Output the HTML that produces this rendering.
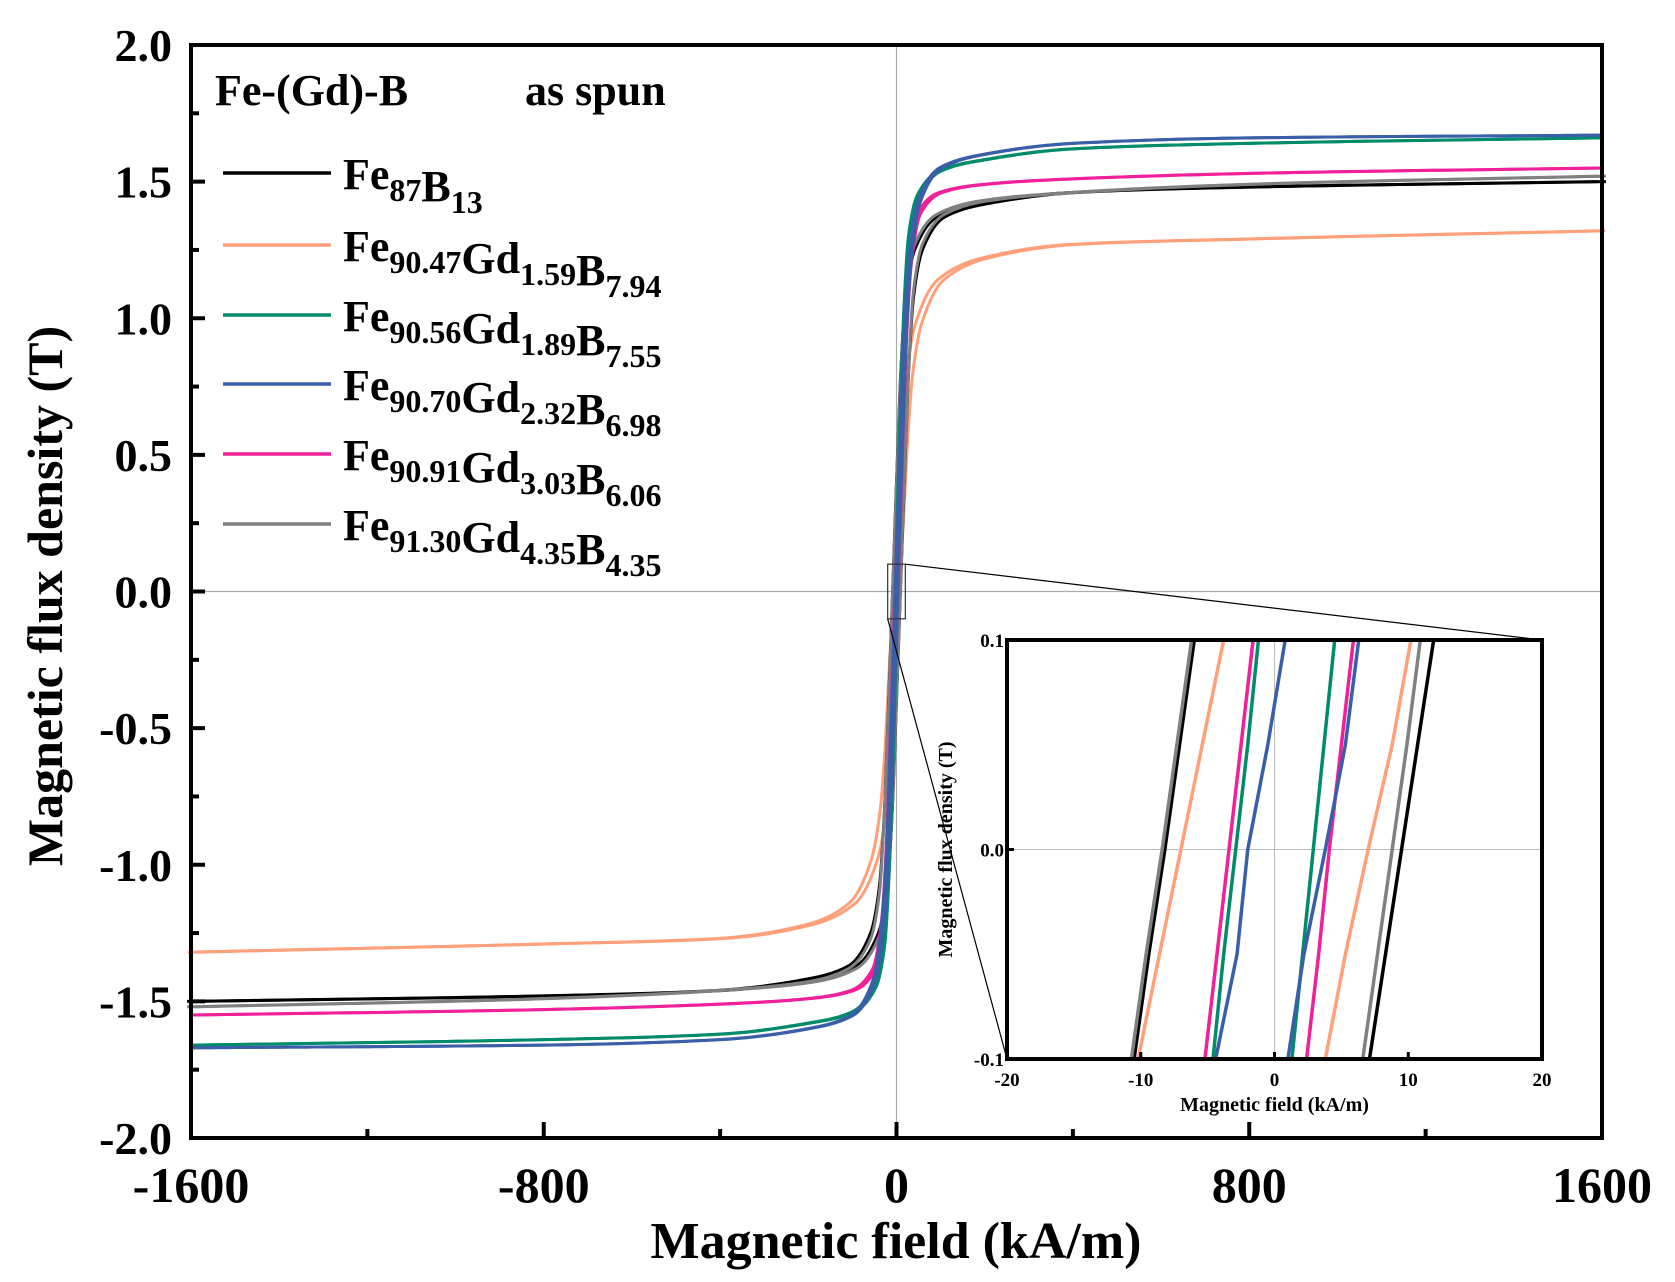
<!DOCTYPE html>
<html><head><meta charset="utf-8"><style>
body{margin:0;background:#fff}
svg{display:block;font-family:"Liberation Serif",serif;font-weight:bold}
</style></head><body>
<svg id="chart" width="1675" height="1282" viewBox="0 0 1675 1282" xmlns="http://www.w3.org/2000/svg">
<g id="main"></g>
<g id="inset"></g>
</svg>
<script>
const seriesNames=["Fe87B13","Fe90.47Gd1.59B7.94","Fe90.56Gd1.89B7.55","Fe90.70Gd2.32B6.98","Fe90.91Gd3.03B6.06","Fe91.30Gd4.35B4.35"];
const seriesColors=["#000000","#ffa07a","#008b6b","#3a5fa8","#f0209a","#808080"];
const mainH=[0,10,20,30,50,100,200,400,800,1600];
const bBlack=[0,0.45,0.85,1.08,1.25,1.37,1.42,1.46,1.48,1.50];
const bOrange=[0,0.30,0.60,0.80,0.98,1.14,1.22,1.27,1.29,1.32];
const bGreen=[0,0.60,1.05,1.30,1.45,1.54,1.58,1.62,1.64,1.66];
const bBlue=[0,0.50,0.95,1.20,1.42,1.55,1.60,1.64,1.66,1.67];
const bPink=[0,0.50,0.95,1.20,1.38,1.46,1.49,1.51,1.53,1.55];
const bGray=[0,0.45,0.85,1.10,1.27,1.38,1.43,1.46,1.49,1.52];
const insetB=[-0.1,-0.05,0,0.05,0.1];
const hBlackL=[-10.5,-9.4,-8.2,-7.1,-6.0], hBlackR=[7.1,8.3,9.5,10.7,11.9];
const hOrangeL=[-10.2,-8.6,-7.0,-5.4,-3.8], hOrangeR=[3.8,5.3,7.0,8.8,10.2];
const hGreenL=[-4.6,-3.8,-2.9,-2.0,-1.2], hGreenR=[1.3,2.1,2.9,3.7,4.5];
const hBlueL=[-4.4,-2.8,-2.0,-0.5,0.8], hBlueR=[1.0,2.2,3.8,5.3,6.3];
const hPinkL=[-5.2,-4.3,-3.4,-2.5,-1.6], hPinkR=[2.4,3.3,4.1,5.0,5.9];
const hGrayL=[-10.7,-9.6,-8.4,-7.3,-6.2], hGrayR=[6.6,7.7,8.8,9.9,10.9];
const xTicks=[-1600,-800,0,800,1600];
const xTickLabels=["-1600","-800","0","800","1600"];
const yTicks=[-2,-1.5,-1,-0.5,0,0.5,1,1.5,2];
const yTickLabels=["-2.0","-1.5","-1.0","-0.5","0.0","0.5","1.0","1.5","2.0"];
const insetXTicks=[-20,-10,0,10,20];
const insetYTicks=[-0.1,0,0.1];
const insetYTickLabels=["-0.1","0.0","0.1"];

const NS="http://www.w3.org/2000/svg";
function mk(parent,tag,attrs,text){const e=document.createElementNS(NS,tag);for(const k in attrs)e.setAttribute(k,attrs[k]);if(text!==undefined)e.textContent=text;parent.appendChild(e);return e;}
const X0=191,X1=1602,Y0=45,Y1=1138;
const sx=h=>X0+(h+1600)/3200*(X1-X0);
const sy=b=>Y1-(b+2)/4*(Y1-Y0);
const IX0=1007,IX1=1542,IY0=640,IY1=1059;
const ix=h=>IX0+(h+20)/40*(IX1-IX0);
const iy=b=>IY1-(b+0.1)/0.2*(IY1-IY0);
// monotone cubic Hermite interpolation (Fritsch-Carlson)
function monotone(xs,ys){const n=xs.length,d=[],m=new Array(n);
 for(let i=0;i<n-1;i++)d.push((ys[i+1]-ys[i])/(xs[i+1]-xs[i]));
 m[0]=d[0];m[n-1]=d[n-2];
 for(let i=1;i<n-1;i++){if(d[i-1]*d[i]<=0)m[i]=0;else{const w1=2*(xs[i+1]-xs[i])+(xs[i]-xs[i-1]),w2=(xs[i+1]-xs[i])+2*(xs[i]-xs[i-1]);m[i]=(w1+w2)/(w1/d[i-1]+w2/d[i]);}}
 return x=>{let i=0;while(i<n-2&&x>xs[i+1])i++;const h=xs[i+1]-xs[i],t=(x-xs[i])/h,t2=t*t,t3=t2*t;
  return (2*t3-3*t2+1)*ys[i]+(t3-2*t2+t)*h*m[i]+(-2*t3+3*t2)*ys[i+1]+(t3-t2)*h*m[i+1];};}
const sampleH=[];for(let h=0;h<=1600;h+=(h<60?1:h<300?4:20))sampleH.push(h);if(sampleH[sampleH.length-1]!==1600)sampleH.push(1600);
const mainB=[bBlack,bOrange,bGreen,bBlue,bPink,bGray];
const insL=[hBlackL,hOrangeL,hGreenL,hBlueL,hPinkL,hGrayL];
const insR=[hBlackR,hOrangeR,hGreenR,hBlueR,hPinkR,hGrayR];
const main=document.getElementById('main');
const inset=document.getElementById('inset');
const gx=mk(main,'line',{x1:sx(0),x2:sx(0),y1:Y0,y2:Y1,stroke:'#aaa','stroke-width':1.2});

const gy=mk(main,'line',{x1:X0,x2:X1,y1:sy(0),y2:sy(0),stroke:'#aaa','stroke-width':1.2});

const drawOrder=[1,0,5,4,2,3];
drawOrder.forEach(s=>{
 const f=monotone(mainH,mainB[s]);const hc=(insR[s][2]-insL[s][2])/2;
 let full=[];
 for(let i=sampleH.length-1;i>0;i--)full.push([-sampleH[i],-f(sampleH[i])]);
 for(let i=0;i<sampleH.length;i++)full.push([sampleH[i],f(sampleH[i])]);
 [-hc,hc].forEach((sh,k)=>{
  const pts=full.map(p=>sx(p[0]+sh).toFixed(2)+','+sy(p[1]).toFixed(2)).join(' ');
  const p=mk(main,'polyline',{points:pts,fill:'none',stroke:seriesColors[s],'stroke-width':3,'stroke-linejoin':'round'});
  
  
 });
});
const fr=mk(main,'rect',{x:X0,y:Y0,width:X1-X0,height:Y1-Y0,fill:'none',stroke:'#000','stroke-width':4});

xTicks.forEach((t,i)=>{
 const l=mk(main,'line',{x1:sx(t),x2:sx(t),y1:Y1,y2:Y1-16,stroke:'#000','stroke-width':4});
 
 const tx=mk(main,'text',{x:sx(t),y:1202,'font-size':50,'text-anchor':'middle'},xTickLabels[i]);
 
 if(i<xTicks.length-1){const m=(t+xTicks[i+1])/2;
  const ml=mk(main,'line',{x1:sx(m),x2:sx(m),y1:Y1,y2:Y1-9,stroke:'#000','stroke-width':4});
  }
});
yTicks.forEach((t,i)=>{
 const l=mk(main,'line',{x1:X0,x2:X0+14,y1:sy(t),y2:sy(t),stroke:'#000','stroke-width':4});
 
 const tx=mk(main,'text',{x:172,y:sy(t)+16,'font-size':46,'text-anchor':'end'},yTickLabels[i]);
 
 if(i<yTicks.length-1){const m=(t+yTicks[i+1])/2;
  const ml=mk(main,'line',{x1:X0,x2:X0+8,y1:sy(m),y2:sy(m),stroke:'#000','stroke-width':4});
  }
});
const xt=mk(main,'text',{x:896,y:1258,'font-size':52,'text-anchor':'middle'},'Magnetic field (kA/m)');

const yt=mk(main,'text',{x:0,y:0,'font-size':50,'text-anchor':'middle',transform:'translate(62,596) rotate(-90)'},'Magnetic flux density (T)');

const t1=mk(main,'text',{x:215,y:105,'font-size':44},'Fe-(Gd)-B');

const t2=mk(main,'text',{x:525,y:105,'font-size':44},'as spun');

const legParts=[[["Fe","87"],["B","13"]],[["Fe","90.47"],["Gd","1.59"],["B","7.94"]],[["Fe","90.56"],["Gd","1.89"],["B","7.55"]],[["Fe","90.70"],["Gd","2.32"],["B","6.98"]],[["Fe","90.91"],["Gd","3.03"],["B","6.06"]],[["Fe","91.30"],["Gd","4.35"],["B","4.35"]]];
const legY=[173,245,315,384,454,524];
legParts.forEach((parts,s)=>{
 const g=mk(main,'g',{});
 
 const ll=mk(g,'line',{x1:223,x2:331,y1:legY[s],y2:legY[s],stroke:seriesColors[s],'stroke-width':3.5});
 
 const tx=mk(g,'text',{x:343,y:legY[s]+16,'font-size':44});
 
 parts.forEach(p=>{mk(tx,'tspan',{},p[0]);mk(tx,'tspan',{'font-size':32,dy:12},p[1]);mk(tx,'tspan',{dy:-12},'');});
});
const zb=mk(main,'rect',{x:sx(-20),y:sy(0.1),width:sx(20)-sx(-20),height:sy(-0.1)-sy(0.1),fill:'none',stroke:'#333','stroke-width':1.2});

const c1=mk(main,'line',{x1:sx(20),y1:sy(0.1),x2:IX1,y2:IY0,stroke:'#000','stroke-width':1.2});

const c2=mk(main,'line',{x1:sx(-20),y1:sy(-0.1),x2:IX0,y2:IY1,stroke:'#000','stroke-width':1.2});

const ib=mk(inset,'rect',{x:IX0,y:IY0,width:IX1-IX0,height:IY1-IY0,fill:'#fff',stroke:'none'});

const ig1=mk(inset,'line',{x1:ix(0),x2:ix(0),y1:IY0,y2:IY1,stroke:'#bbb','stroke-width':1});

const ig2=mk(inset,'line',{x1:IX0,x2:IX1,y1:iy(0),y2:iy(0),stroke:'#bbb','stroke-width':1});

const clip=mk(inset,'clipPath',{id:'ic'});mk(clip,'rect',{x:IX0,y:IY0,width:IX1-IX0,height:IY1-IY0});
const ic=mk(inset,'g',{'clip-path':'url(#ic)'});

drawOrder.forEach(s=>{
 [insL[s],insR[s]].forEach((H,k)=>{
  const pts=H.map((h,j)=>ix(h).toFixed(2)+','+iy(insetB[j]).toFixed(2)).join(' ');
  const p=mk(ic,'polyline',{points:pts,fill:'none',stroke:seriesColors[s],'stroke-width':3.5});
  
  
 });
});
const ifr=mk(inset,'rect',{x:IX0,y:IY0,width:IX1-IX0,height:IY1-IY0,fill:'none',stroke:'#000','stroke-width':4});

insetXTicks.forEach((t,i)=>{
 const l=mk(inset,'line',{x1:ix(t),x2:ix(t),y1:IY1,y2:IY1-7,stroke:'#000','stroke-width':3});
 
 const tx=mk(inset,'text',{x:ix(t),y:IY1+27,'font-size':19,'text-anchor':'middle'},String(t));
 
});
insetYTicks.forEach((t,i)=>{
 const l=mk(inset,'line',{x1:IX0,x2:IX0+7,y1:iy(t),y2:iy(t),stroke:'#000','stroke-width':3});
 
 const tx=mk(inset,'text',{x:IX0-3,y:iy(t)+7,'font-size':19,'text-anchor':'end'},insetYTickLabels[i]);
 
});
const ixt=mk(inset,'text',{x:(IX0+IX1)/2,y:IY1+52,'font-size':20,'text-anchor':'middle'},'Magnetic field (kA/m)');

const iyt=mk(inset,'text',{x:0,y:0,'font-size':20,'text-anchor':'middle',transform:'translate('+(IX0-55)+','+((IY0+IY1)/2)+') rotate(-90)'},'Magnetic flux density (T)');

</script>
</body></html>
